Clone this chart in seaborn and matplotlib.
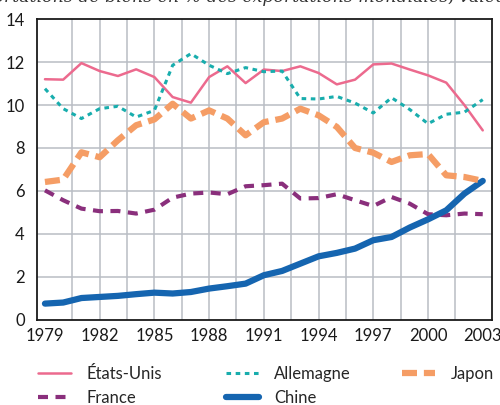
import matplotlib
matplotlib.use("Agg")
import matplotlib.pyplot as plt
import numpy as np
import pandas as pd
import seaborn as sns

sns.set_style("white")
plt.rcParams['font.family'] = ['Lato', 'DejaVu Sans']

years = list(range(1979, 2004))

etats_unis = [11.2, 11.18, 11.95, 11.58, 11.35, 11.66, 11.3, 10.37, 10.11, 11.3, 11.8, 11.02, 11.65,
              11.58, 11.8, 11.49, 10.96, 11.18, 11.89, 11.93, 11.65, 11.38, 11.04, 9.99, 8.82]
allemagne = [10.76, 9.83, 9.37, 9.83, 9.94, 9.44, 9.75, 11.85, 12.39, 11.85, 11.46, 11.74, 11.55,
             11.58, 10.3, 10.28, 10.4, 10.09, 9.63, 10.34, 9.79, 9.13, 9.57, 9.67, 10.25]
japon = [6.42, 6.53, 7.8, 7.57, 8.36, 9.06, 9.33, 10.06, 9.37, 9.75, 9.37, 8.59, 9.2,
         9.37, 9.83, 9.52, 8.98, 8.0, 7.78, 7.35, 7.66, 7.72, 6.73, 6.65, 6.47]
france = [6.03, 5.57, 5.18, 5.06, 5.07, 4.95, 5.13, 5.69, 5.88, 5.93, 5.85, 6.22, 6.27,
          6.34, 5.65, 5.67, 5.85, 5.57, 5.3, 5.72, 5.41, 4.92, 4.87, 4.95, 4.92]
chine = [0.76, 0.81, 1.02, 1.07, 1.12, 1.2, 1.27, 1.23, 1.3, 1.46, 1.57, 1.69, 2.08,
         2.28, 2.62, 2.96, 3.12, 3.32, 3.71, 3.86, 4.3, 4.68, 5.1, 5.88, 6.47]

xtick_years = list(range(1979, 2004, 3))
yticks = list(range(0, 15, 2))

fig = plt.figure(figsize=(5, 4.05), dpi=100)
ax = fig.add_axes([0.0746, 0.21, 0.9084, 0.743])

grid_c = '#b9bdc4'
for gx in np.arange(1980.5, 2002, 1.5):
    ax.axvline(gx, color=grid_c, lw=1.1, zorder=0)
for gy in yticks[1:-1]:
    ax.axhline(gy, color=grid_c, lw=1.1, zorder=0)

sns.lineplot(x=years, y=etats_unis, ax=ax, color='#ec6a8e', lw=1.8, label='États-Unis')
sns.lineplot(x=years, y=france, ax=ax, color='#8a2f7c', lw=3.0, linestyle=(0, (2.4, 1.8)), label='France')
sns.lineplot(x=years, y=allemagne, ax=ax, color='#18adad', lw=2.2, linestyle=(0, (1.5, 1.5)), label='Allemagne')
sns.lineplot(x=years, y=chine, ax=ax, color='#1565b0', lw=4.5, label='Chine')
sns.lineplot(x=years, y=japon, ax=ax, color='#f59d65', lw=4.5, linestyle=(0, (2.4, 1.1)), label='Japon')

ax.set_xlim(1978.58, 2003.48)
ax.set_ylim(0, 14)
ax.set_xticks(xtick_years)
ax.set_yticks(yticks)
ax.tick_params(length=0, labelsize=12, colors='#1a1a1a')
ax.tick_params(axis='x', pad=6)
ax.tick_params(axis='y', pad=9)
for s in ax.spines.values():
    s.set_visible(True)
    s.set_color('#1a1a1a')
    s.set_linewidth(1.3)

# legend as three columns placed by hand
handles, labels = ax.get_legend_handles_labels()
ax.get_legend().remove()
lut = dict(zip(labels, handles))
columns = [(['États-Unis', 'France'], 0.076), (['Allemagne', 'Chine'], 0.452), (['Japon'], 0.804)]
for names, x0 in columns:
    leg = fig.legend([lut[n] for n in names], names, loc='upper left', bbox_to_anchor=(x0, 0.097),
                     frameon=False, fontsize=12, handlelength=2.0, handletextpad=0.9,
                     labelspacing=0.5, borderpad=0, borderaxespad=0)

fig.text(-0.08, 1 - 2.5 / 405, 'Exportations de biens en % des exportations mondiales, valeur',
         family='DejaVu Serif', style='italic', fontsize=12.5, color='#333333', va='baseline')

fig.savefig('out.png', dpi=100)
